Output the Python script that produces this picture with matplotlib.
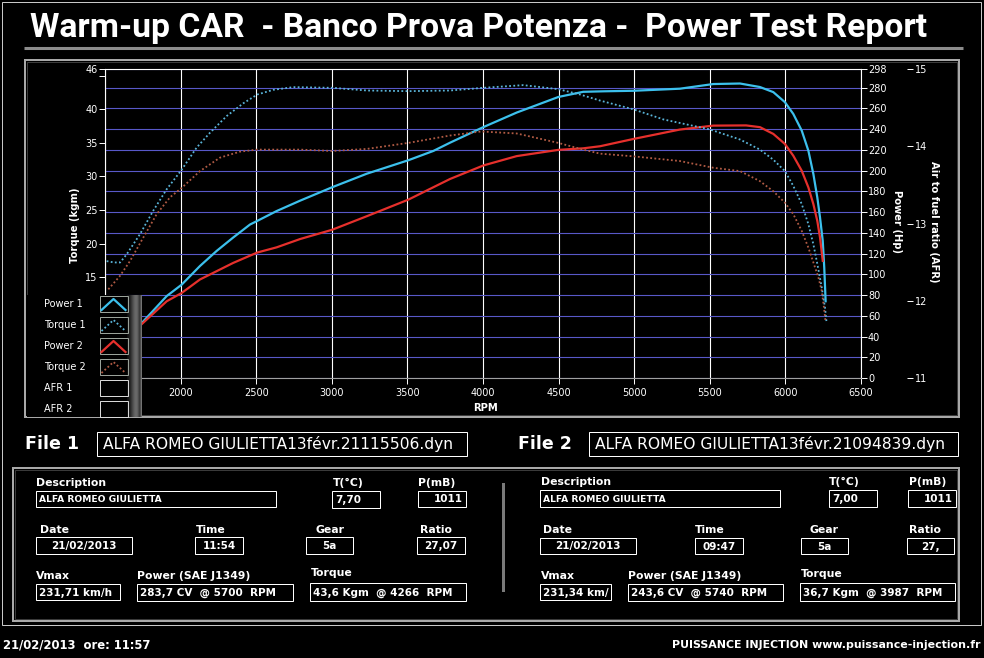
import numpy as np
import matplotlib
matplotlib.use('Agg')
import matplotlib.pyplot as plt
from matplotlib.patches import Rectangle
from matplotlib import font_manager as fm

W, H = 984, 658

# ---- curve data ----
rpm_p1 = [1743, 1908, 2007, 2128, 2238, 2348, 2459, 2507, 2635, 2790, 3003, 3231, 3506, 3672,
          3783, 4003, 4223, 4498, 4663, 4800, 4994, 5302, 5523, 5700, 5832, 5920, 5997, 6052,
          6108, 6152, 6185, 6211, 6229, 6247, 6257, 6266]
power1 = [53, 79, 90, 108, 122.5, 135.5, 148, 151.5, 161, 171, 184, 197, 210, 219,
          227, 242, 256, 271, 276, 276.5, 277, 279, 283.5, 284, 280.6, 275.7, 266, 254.7,
          238.6, 219.2, 196.7, 174.1, 154.8, 132.2, 106.4, 74]

rpm_p2 = [1743, 1908, 2007, 2128, 2238, 2348, 2507, 2635, 2790, 3003, 3231, 3506, 3672, 3783,
          4003, 4223, 4498, 4663, 4774, 4994, 5302, 5523, 5740, 5832, 5920, 5997, 6052, 6108,
          6152, 6185, 6211, 6229, 6247]
power2 = [52, 74, 82, 95, 103, 111, 121, 126, 134, 143, 156, 172, 184, 192,
          205, 214, 220, 221.5, 223.5, 230.5, 239.6, 243.4, 243.6, 241.9, 235.4, 225.7, 214.4, 199.9,
          183.8, 167.7, 151.5, 135.4, 113]

rpm_t1 = [1511, 1560, 1600, 1643, 1731, 1819, 1908, 2007, 2106, 2194, 2305, 2415, 2507, 2613,
          2745, 3003, 3231, 3506, 3783, 4003, 4266, 4498, 4642, 4774, 4994, 5192, 5501, 5700,
          5832, 5920, 5997, 6052, 6108, 6152, 6185, 6211, 6240, 6262, 6272]
torque1 = [17.4, 17.2, 17.2, 18.4, 21.4, 24.9, 28.1, 31.0, 34.3, 36.5, 39.0, 40.9, 42.2, 42.9,
           43.3, 43.2, 42.8, 42.7, 42.8, 43.2, 43.6, 43.0, 42.2, 41.3, 40.0, 38.5, 37.0, 35.5,
           34.0, 32.5, 30.8, 28.6, 25.9, 22.9, 19.9, 17.0, 13.5, 10.5, 8.3]

rpm_t2 = [1522, 1599, 1665, 1753, 1842, 1930, 2007, 2128, 2260, 2393, 2507, 2790, 3003, 3231,
          3506, 3783, 3987, 4223, 4498, 4663, 4774, 4994, 5302, 5523, 5700, 5832, 5920, 5997,
          6052, 6108, 6152, 6185, 6218, 6240, 6255, 6265]
torque2 = [13.2, 15.2, 17.4, 20.9, 24.4, 26.9, 28.3, 30.8, 32.8, 33.7, 34.0, 34.0, 33.8, 34.1,
           35.0, 36.1, 36.7, 36.4, 35.0, 34.0, 33.4, 33.0, 32.3, 31.3, 30.8, 29.3, 27.8, 26.1,
           24.4, 21.9, 19.4, 17.2, 15.0, 13.0, 10.5, 8.5]

rpm_ticks = list(range(1500, 6501, 500))
power_ticks = list(range(0, 281, 20)) + [298]
torque_ticks = list(range(0, 46, 5)) + [46]
afr_ticks = [11, 12, 13, 14, 15]

legend_labels = ['Power 1', 'Torque 1', 'Power 2', 'Torque 2', 'AFR 1', 'AFR 2']

title = 'Warm-up CAR  - Banco Prova Potenza -  Power Test Report'
file1_name = 'ALFA ROMEO GIULIETTA13févr.21115506.dyn'
file2_name = 'ALFA ROMEO GIULIETTA13févr.21094839.dyn'

field_labels = ['Description', 'T(°C)', 'P(mB)', 'Date', 'Time', 'Gear', 'Ratio',
                'Vmax', 'Power (SAE J1349)', 'Torque']
values_1 = ['ALFA ROMEO GIULIETTA', '7,70', '1011', '21/02/2013', '11:54', '5a', '27,07',
            '231,71 km/h', '283,7 CV  @ 5700  RPM', '43,6 Kgm  @ 4266  RPM']
values_2 = ['ALFA ROMEO GIULIETTA', '7,00', '1011', '21/02/2013', '09:47', '5a', '27,',
            '231,34 km/', '243,6 CV  @ 5740  RPM', '36,7 Kgm  @ 3987  RPM']

footer_left = '21/02/2013  ore: 11:57'
footer_right = 'PUISSANCE INJECTION www.puissance-injection.fr'

# layout of the info fields: label x, label y, box x0, y0, x1, y1, text alignment
layout_1 = [(36, 483, 36, 491, 276, 507, 'left'), (333, 483, 332, 491, 380, 508, 'left'),
            (418, 483, 418, 491, 466, 507, 'right'), (40, 530, 36, 537, 132, 554, 'center'),
            (196, 530, 195, 537, 243, 554, 'center'), (316, 530, 306, 537, 353, 554, 'center'),
            (420, 530, 417, 537, 465, 554, 'center'), (36, 576, 36, 584, 120, 600, 'left'),
            (137, 576, 137, 584, 293, 601, 'left'), (311, 573, 310, 583, 466, 601, 'left')]
layout_2 = [(541, 482, 540, 490, 780, 507, 'left'), (829, 482, 829, 490, 877, 507, 'left'),
            (909, 482, 908, 490, 956, 507, 'right'), (543, 530, 540, 538, 636, 554, 'center'),
            (695, 530, 695, 538, 743, 554, 'center'), (810, 530, 801, 538, 848, 554, 'center'),
            (909, 530, 907, 538, 954, 554, 'center'), (541, 576, 540, 584, 611, 600, 'left'),
            (628, 576, 628, 584, 783, 601, 'left'), (801, 574, 800, 583, 955, 601, 'left')]

c_pow1 = '#3cc0ec'
c_tq1 = '#5ab4d8'
c_pow2 = '#e6302c'
c_tq2 = '#b05a44'
c_grid = '#5858c8'
dots = (0, (1, 1.3))


def pick_title_font():
    names = {f.name for f in fm.fontManager.ttflist}
    for n in ['Roboto', 'Open Sans', 'Lato']:
        if n in names:
            return [n, 'DejaVu Sans']
    return ['DejaVu Sans']


def frac(x0, y0, x1, y1):
    return [x0 / W, 1 - y1 / H, (x1 - x0) / W, (y1 - y0) / H]


def rect(a, x0, y0, x1, y1, ec, lw=1.0, fc=None, z=1):
    a.add_patch(Rectangle((x0, y0), x1 - x0, y1 - y0, fill=fc is not None,
                          facecolor=fc if fc else 'none', edgecolor=ec,
                          linewidth=lw * 0.72, zorder=z))


fig = plt.figure(figsize=(W / 100, H / 100), dpi=100, facecolor='black')

bg = fig.add_axes([0, 0, 1, 1])
bg.set_xlim(0, W)
bg.set_ylim(H, 0)
bg.axis('off')

# frames
rect(bg, 2, 2, 981, 625, '#c8c8c8')
bg.plot([24, 963], [47.5, 47.5], color='#8c8c8c', lw=2.2, solid_capstyle='butt')
rect(bg, 25, 60, 959, 417, '#a8a8a8', lw=2)
rect(bg, 27, 62, 957, 415, '#3c3c3c')
rect(bg, 13, 468, 959, 621, '#a8a8a8', lw=2)
rect(bg, 15, 470, 957, 619, '#3a3a3a')
bg.add_patch(Rectangle((502, 483), 3, 109, facecolor='#7a7a7a', edgecolor='none'))

# ---- chart ----
ax = fig.add_axes(frac(105, 69, 861, 378))
ax.set_facecolor('black')
ax.set_xlim(1500, 6500)
ax.set_ylim(0, 298)
ax.set_xticks(rpm_ticks)
ax.set_yticks(power_ticks)
ax.grid(axis='x', color='white', lw=0.8)
ax.grid(axis='y', color=c_grid, lw=0.8)
ax.tick_params(colors='white', labelsize=7, length=4, width=0.7)
ax.tick_params(axis='x', pad=3)
ax.tick_params(axis='y', pad=1)
for s in ax.spines.values():
    s.set_color('white')
    s.set_linewidth(0.8)
ax.spines['bottom'].set_color('#a0a0a0')

ax.plot(rpm_p1, power1, color=c_pow1, lw=1.6)
ax.plot(rpm_p2, power2, color=c_pow2, lw=1.6)

axt = ax.twinx()
axt.set_ylim(0, 46)
axt.set_yticks(torque_ticks)
axt.set_yticklabels([str(v) if v != 45 else '' for v in torque_ticks])
for s in axt.spines.values():
    s.set_visible(False)
axt.plot(rpm_t1, torque1, color=c_tq1, lw=1.3, ls=dots)
axt.plot(rpm_t2, torque2, color=c_tq2, lw=1.3, ls=dots)

ax3 = ax.twinx()
ax3.set_ylim(11, 15)
ax3.set_yticks(afr_ticks)
ax3.spines['right'].set_position(('outward', 46 * 0.72))
for s in ax3.spines.values():
    s.set_visible(False)
ax3.tick_params(colors='white', labelsize=7, length=4, width=0.7, pad=1.5)

ax.yaxis.tick_right()
axt.yaxis.tick_left()
axt.tick_params(colors='white', labelsize=7, length=4, width=0.7, pad=1.5)

# ---- overlay: texts, legend, info boxes ----
fg = fig.add_axes([0, 0, 1, 1], zorder=10)
fg.set_xlim(0, W)
fg.set_ylim(H, 0)
fg.axis('off')

fits = []

t = fg.text(30, 28, title, color='white', fontweight='bold', fontsize=22,
            ha='left', va='center', family=pick_title_font())
fits.append((t, 895))

lab = dict(color='white', fontweight='bold', fontsize=7.2)
fg.text(485, 408, 'RPM', ha='center', va='center', **lab)
fg.text(75, 225, 'Torque (kgm)', rotation=90, ha='center', va='center', **lab)
fg.text(897, 222, 'Power (Hp)', rotation=270, ha='center', va='center', **lab)
fg.text(934, 222, 'Air to fuel ratio (AFR)', rotation=270, ha='center', va='center', **lab)

# legend
fg.add_patch(Rectangle((27, 295), 115, 122, facecolor='black', edgecolor='none', zorder=2))
grad = np.array([[0.06, 0.1, 0.16, 0.24, 0.32, 0.38, 0.42, 0.4, 0.3, 0.2, 0.45]])
fg.imshow(grad, extent=(127, 142, 417, 295), cmap='gray', vmin=0, vmax=1,
          aspect='auto', zorder=3, interpolation='bilinear')
fg.set_xlim(0, W)
fg.set_ylim(H, 0)
leg_colors = [c_pow1, c_tq1, c_pow2, c_tq2, None, None]
leg_styles = ['-', dots, '-', dots, None, None]
for i, name in enumerate(legend_labels):
    yc = 304 + i * 21
    fg.text(44, yc, name, color='white', fontsize=7, ha='left', va='center', zorder=4)
    ec = '#9aa29a' if leg_colors[i] else '#d8d8d8'
    rect(fg, 99.5, yc - 8, 127.5, yc + 8, ec, z=4)
    if leg_colors[i]:
        fg.plot([101.5, 113.5, 125.5], [yc + 6, yc - 5, yc + 6], color=leg_colors[i],
                lw=1.6 if leg_styles[i] == '-' else 1.3, ls=leg_styles[i], zorder=5)

# file headers
for fx, bx0, bx1, name, label in [(25, 97, 467, file1_name, 'File 1'),
                                  (518, 589, 958, file2_name, 'File 2')]:
    t = fg.text(fx, 444, label, color='white', fontweight='bold', fontsize=13.5,
                ha='left', va='center')
    fits.append((t, 54))
    rect(fg, bx0, 432, bx1, 456, 'white')
    t = fg.text(bx0 + 6, 444.5, name, color='white', fontsize=10.5, ha='left', va='center')
    fits.append((t, 351))

# info fields
for layout, values in [(layout_1, values_1), (layout_2, values_2)]:
    for (lx, ly, x0, y0, x1, y1, al), name, val in zip(layout, field_labels, values):
        fg.text(lx, ly, name, color='white', fontweight='bold', fontsize=7.8,
                ha='left', va='center')
        rect(fg, x0, y0, x1, y1, 'white')
        if al == 'left':
            tx = x0 + 3
        elif al == 'right':
            tx = x1 - 3
        else:
            tx = (x0 + x1) / 2
        fs = 6.6 if name == 'Description' else 7.5
        fg.text(tx, (y0 + y1) / 2 + 0.5, val, color='white', fontweight='bold',
                fontsize=fs, ha=al, va='center')

t = fg.text(3, 645, footer_left, color='white', fontweight='bold', fontsize=8,
            ha='left', va='center')
fits.append((t, 149))
t = fg.text(980, 645, footer_right, color='white', fontweight='bold', fontsize=8,
            ha='right', va='center')
fits.append((t, 308))

fig.canvas.draw()
r = fig.canvas.get_renderer()
for t, w in fits:
    bb = t.get_window_extent(r)
    t.set_fontsize(t.get_fontsize() * w / bb.width)

fig.savefig('out.png', dpi=100, facecolor='black')
